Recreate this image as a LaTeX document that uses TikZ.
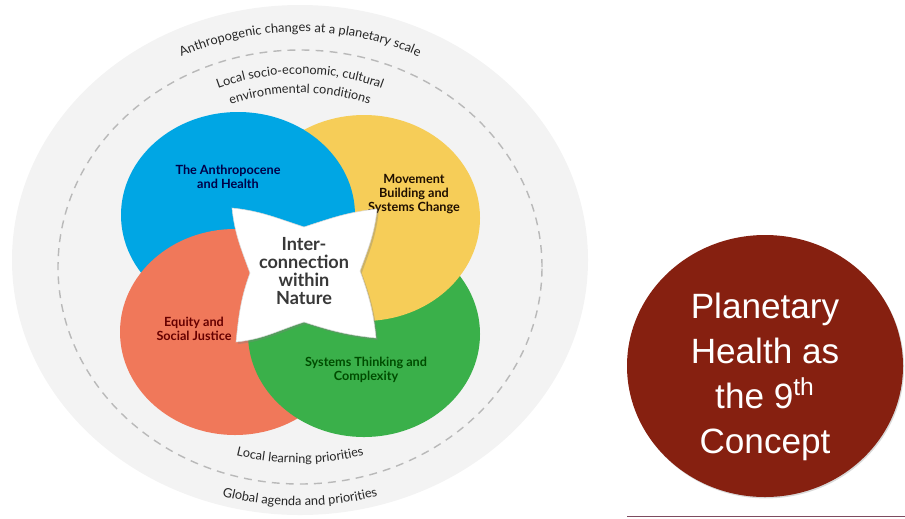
\documentclass[tikz,border=0pt]{standalone}
\usepackage{fontspec}
\setmainfont{Lato}
\newfontfamily\arialfont{Liberation Sans}
\usetikzlibrary{decorations.text,shadows}

\definecolor{ringgray}{RGB}{243,243,243}
\definecolor{dashgray}{RGB}{185,185,185}
\definecolor{anthroblue}{RGB}{0,166,228}
\definecolor{movyellow}{RGB}{246,205,88}
\definecolor{equityred}{RGB}{240,120,90}
\definecolor{systgreen}{RGB}{58,176,74}
\definecolor{conceptred}{RGB}{134,32,16}
\definecolor{rulecol}{RGB}{125,75,95}

\tikzset{
  dashring/.style={draw=dashgray, line width=0.8pt, dash pattern=on 4.5pt off 3.5pt},
  ringtext/.style={decorate, decoration={text along path, text align=center, text color=black!85}},
  petal/.style={fill=#1, draw=none},
  circlabel/.style={font=\fontsize{7.2}{8.2}\selectfont\bfseries, align=center, text=#1},
}

\begin{document}
\begin{tikzpicture}[x=0.02cm,y=0.02cm]
			%%%%% START %%%%%
			
			\useasboundingbox (0,0) rectangle (905,-518);
			
			% rings
			\fill[ringgray] (300,-260) ellipse [x radius=288, y radius=255];
			\draw[dashring] (300,-267) ellipse [x radius=242, y radius=217];
			
			\path[ringtext, decoration={text={|\fontsize{7.3}{8}\selectfont|Anthropogenic changes at a planetary scale}}]
				([shift={(160:262 and 228)}]300,-260) arc [start angle=160, end angle=20, x radius=262, y radius=228];
			\path[ringtext, decoration={text={|\fontsize{7.2}{8}\selectfont|Local socio-economic, cultural}}]
				([shift={(150:212 and 186)}]300,-260) arc [start angle=150, end angle=30, x radius=212, y radius=186];
			\path[ringtext, decoration={text={|\fontsize{7.2}{8}\selectfont|environmental conditions}}]
				([shift={(150:191 and 167)}]300,-260) arc [start angle=150, end angle=30, x radius=191, y radius=167];
			\path[ringtext, decoration={text={|\fontsize{7.2}{8}\selectfont|Local learning priorities}}]
				([shift={(215:232 and 203)}]300,-260) arc [start angle=215, end angle=325, x radius=232, y radius=203];
			\path[ringtext, decoration={text={|\fontsize{7.3}{8}\selectfont|Global agenda and priorities}}]
				([shift={(220:276 and 246)}]300,-260) arc [start angle=220, end angle=320, x radius=276, y radius=246];
			
			% four circles, blue over yellow over green over red over blue
			\fill[petal=anthroblue] (238,-215) ellipse [x radius=117, y radius=103];
			\fill[petal=equityred] (235,-332) ellipse [x radius=115, y radius=103];
			\fill[petal=systgreen] (364,-334) ellipse [x radius=116, y radius=103];
			\fill[petal=movyellow] (364,-218) ellipse [x radius=116, y radius=103];
			\begin{scope}
				\clip (364,-218) ellipse [x radius=118, y radius=105];
				\fill[petal=anthroblue] (238,-215) ellipse [x radius=117, y radius=103];
			\end{scope}
			
			\node[circlabel=black!30!blue!40!black] (anthro) at (228,-177) {The Anthropocene\\and Health};
			\node[circlabel=black!88!orange] (movement) at (414,-194) {Movement\\Building and\\Systems Change};
			\node[circlabel=red!40!black] (equity) at (194,-329) {Equity and\\Social Justice};
			\node[circlabel=green!30!black] (systems) at (366,-370) {Systems Thinking and\\Complexity};
			
			% star in the middle
			\coordinate (starTL) at (232,-208);
			\coordinate (notchT) at (304,-227);
			\coordinate (starTR) at (377,-209);
			\coordinate (notchR) at (360,-271);
			\coordinate (starBR) at (376,-338);
			\coordinate (notchB) at (304,-322);
			\coordinate (starBL) at (236,-342);
			\coordinate (notchL) at (250,-273);
			\draw[fill=white, draw=black!15, line width=0.3pt, drop shadow={opacity=0.35, shadow xshift=1pt, shadow yshift=-1.2pt}]
				(starTL) to[out=-6,in=162] (notchT) to[out=18,in=186] (starTR)
				to[out=-96,in=70] (notchR) to[out=-70,in=96] (starBR)
				to[out=174,in=-18] (notchB) to[out=-162,in=6] (starBL)
				to[out=84,in=-110] (notchL) to[out=110,in=-84] (starTL) -- cycle;
			\node[font=\fontsize{10.3}{10.1}\selectfont\bfseries, text=black!78, align=center] (inter) at (304,-271)
				{Inter-\\connection\\within\\Nature};
			
			% right circle
			\fill[conceptred, drop shadow={opacity=0.3, shadow xshift=0.6pt, shadow yshift=-0.8pt}] (765,-366) ellipse [x radius=138, y radius=131];
			\node[font=\arialfont\fontsize{20}{25.5}\selectfont, text=white, align=center] (concept) at (765,-377)
				{Planetary\\Health as\\the 9\textsuperscript{th}\\Concept};
			
			\coordinate (ruleL) at (627,-516.5);
			\coordinate (ruleR) at (905,-516.5);
			\draw[rulecol, line width=0.6pt] (ruleL) -- (ruleR);
			
			%%%%% END %%%%%
		\end{tikzpicture}
\end{document}
